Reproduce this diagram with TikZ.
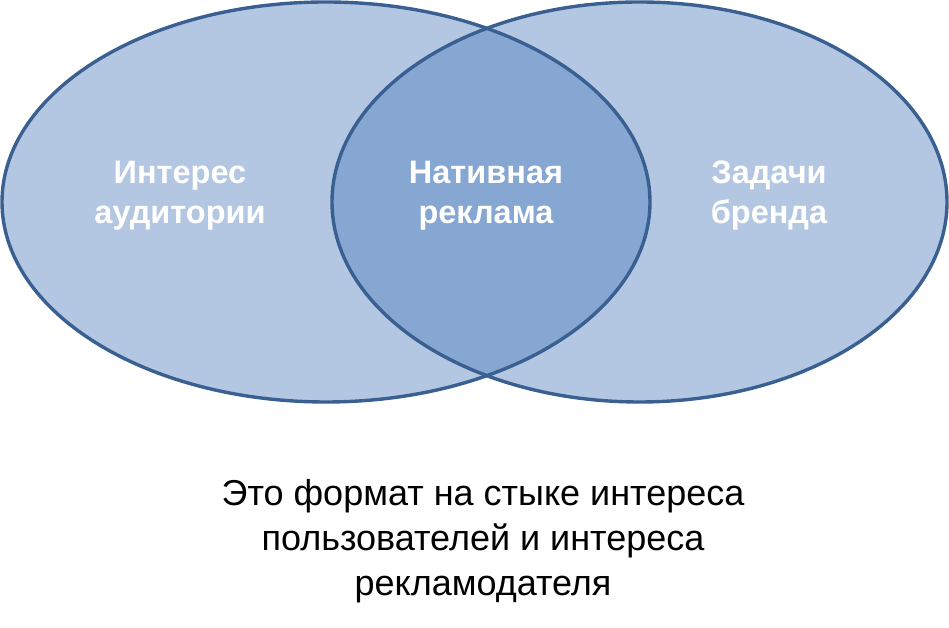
\documentclass[tikz,border=0pt]{standalone}
\usepackage{fontspec}
\setmainfont{Liberation Sans}
\definecolor{lightfill}{RGB}{179,199,227}
\definecolor{darkfill}{RGB}{133,167,210}
\definecolor{edge}{RGB}{58,95,145}
\tikzset{
  vennlabel/.style={text=white, font=\fontsize{32.5}{40}\selectfont\bfseries, align=center},
  captiontext/.style={text=black, font=\fontsize{36}{45}\selectfont, align=center},
  venn/.style={draw=edge, line width=3.4pt}
}
\begin{document}
\begin{tikzpicture}[x=1pt,y=1pt]
\useasboundingbox (0,0) rectangle (949,628);
% fills
\fill[lightfill] (326,426) ellipse [x radius=324, y radius=200];
\fill[lightfill] (639.5,426) ellipse [x radius=307.5, y radius=200];
\begin{scope}
  \clip (326,426) ellipse [x radius=324, y radius=200];
  \fill[darkfill] (639.5,426) ellipse [x radius=307.5, y radius=200];
\end{scope}
% outlines
\draw[venn] (326,426) ellipse [x radius=324, y radius=200];
\draw[venn] (639.5,426) ellipse [x radius=307.5, y radius=200];
% labels
\node[vennlabel] (aud) at (180,432) {Интерес\\аудитории};
\node[vennlabel] (nat) at (486,432) {Нативная\\реклама};
\node[vennlabel] (brand) at (769,432) {Задачи\\бренда};
\node[captiontext] (cap) at (483,87) {Это формат на стыке интереса\\пользователей и интереса\\рекламодателя};
\end{tikzpicture}
\end{document}
